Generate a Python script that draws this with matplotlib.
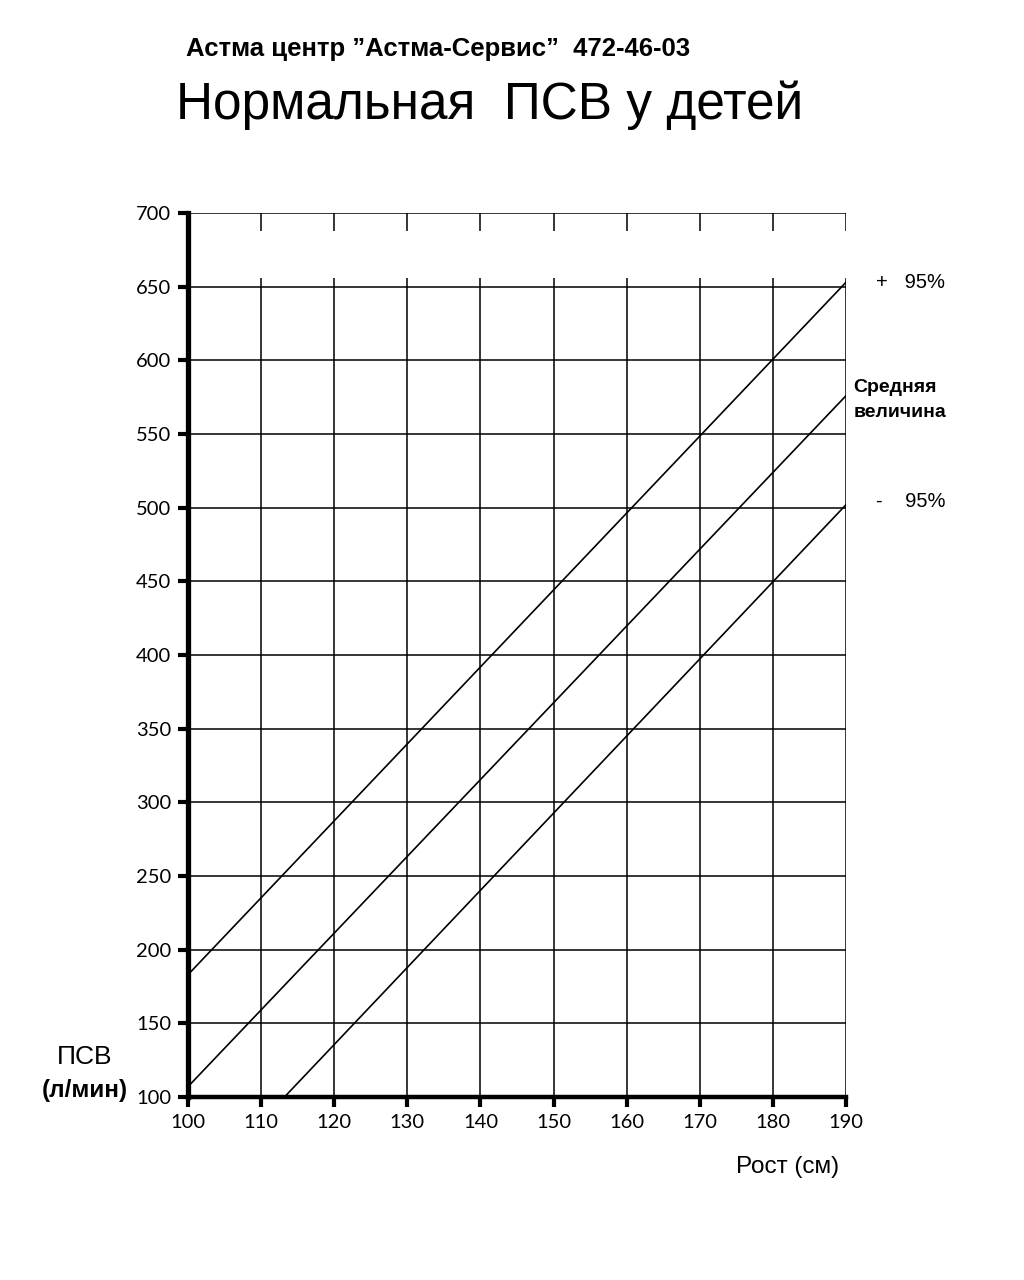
import matplotlib.pyplot as plt

# data
height_ticks = [100, 110, 120, 130, 140, 150, 160, 170, 180, 190]
pef_ticks = [100, 150, 200, 250, 300, 350, 400, 450, 500, 550, 600, 650, 700]

upper_x = [100, 190]
upper_y = [183, 653]
mean_x = [100, 190]
mean_y = [107, 576]
lower_x = [113.2, 190]
lower_y = [100, 502]

label_font = ['Liberation Sans', 'DejaVu Sans']
tick_font = ['Lato', 'DejaVu Sans']

fig = plt.figure(figsize=(10.24, 12.8), dpi=100)
ax = fig.add_axes([0.1836, 0.1430, 0.6426, 0.6906])

ax.set_xlim(100, 190)
ax.set_ylim(100, 700)

# grid (vertical lines have a gap near the top, as on the scan)
for x in height_ticks[1:]:
    ax.vlines(x, 100, 656, color='black', lw=1.1, zorder=1)
    ax.vlines(x, 688, 700, color='black', lw=1.1, zorder=1)
for y in pef_ticks[1:]:
    ax.hlines(y, 100, 190, color='black', lw=1.1, zorder=1)

ax.plot(upper_x, upper_y, color='black', lw=1.2, zorder=2)
ax.plot(mean_x, mean_y, color='black', lw=1.2, zorder=2)
ax.plot(lower_x, lower_y, color='black', lw=1.2, zorder=2)

for s in ['top', 'right']:
    ax.spines[s].set_visible(False)
ax.spines['left'].set_linewidth(3.8)
ax.spines['bottom'].set_linewidth(3.2)

ax.set_xticks(height_ticks)
ax.set_yticks(pef_ticks)
ax.tick_params(axis='y', length=7, width=3, pad=5, labelsize=14.5)
ax.tick_params(axis='x', length=7, width=3, pad=5, labelsize=14.5)
for lab in ax.get_xticklabels() + ax.get_yticklabels():
    lab.set_family(tick_font)

ax.text(194.1, 653, '+   95%', fontsize=14.5, family=label_font, va='center', ha='left')
ax.text(191.0, 573, 'Средняя\nвеличина', fontsize=14, family=label_font,
        va='center', ha='left', linespacing=1.6, fontweight='bold')
ax.text(194.1, 504, '-    95%', fontsize=14.5, family=label_font, va='center', ha='left')

fig.text(0.083, 0.174, 'ПСВ', fontsize=19, family=label_font, ha='center', va='center')
fig.text(0.083, 0.148, '(л/мин)', fontsize=17.5, family=label_font, ha='center',
         va='center', fontweight='bold')
fig.text(0.769, 0.088, 'Рост (см)', fontsize=17.5, family=label_font, ha='center',
         va='center')

fig.text(0.428, 0.962, 'Астма центр ”Астма-Сервис”  472-46-03', fontsize=18.5,
         family=label_font, fontweight='bold', ha='center', va='center')
fig.text(0.478, 0.918, 'Нормальная  ПСВ у детей', fontsize=37,
         family=label_font, ha='center', va='center')

fig.savefig('out.png', dpi=100, facecolor='white')
